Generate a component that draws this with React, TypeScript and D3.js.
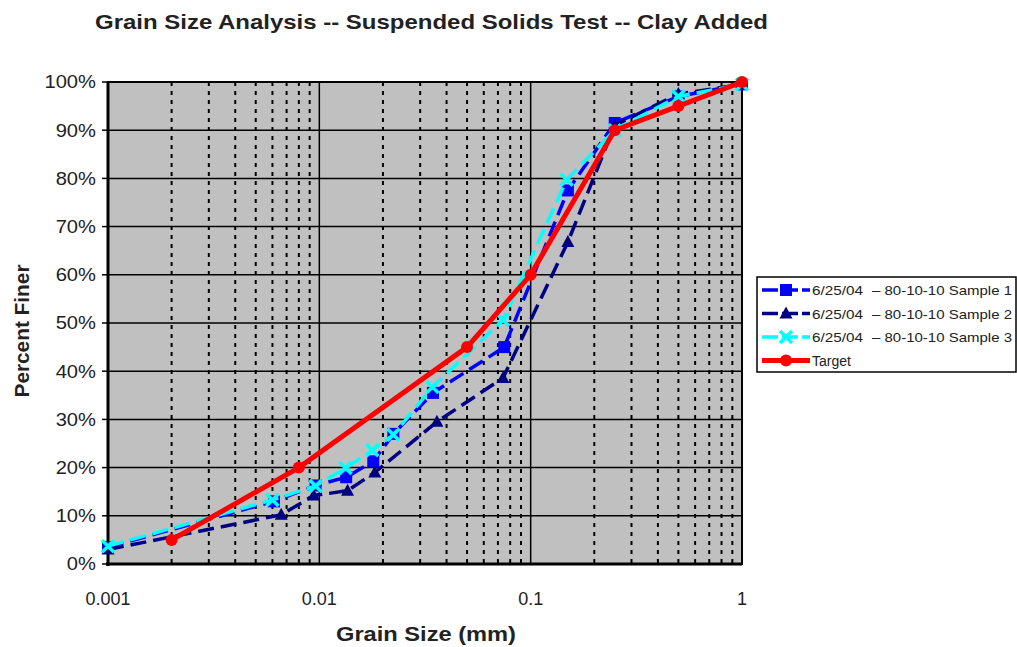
import React from "react";
import * as d3 from "d3";

const title = "Grain Size Analysis -- Suspended Solids Test -- Clay Added";
const xTickValues = [0.001, 0.01, 0.1, 1];
const xTickLabels = ["0.001", "0.01", "0.1", "1"];
const yTickValues = [0, 10, 20, 30, 40, 50, 60, 70, 80, 90, 100];

const sample1Size = [0.001, 0.0061, 0.0096, 0.0134, 0.018, 0.0224, 0.0345, 0.075, 0.15, 0.25, 0.5, 1];
const sample1Pct = [3.5, 13.0, 16.3, 18.0, 21.3, 27.0, 35.5, 45.0, 77.5, 91.5, 97.0, 99.5];

const sample2Size = [0.001, 0.0066, 0.0094, 0.0136, 0.0183, 0.036, 0.074, 0.15, 0.25, 0.5, 1];
const sample2Pct = [3.0, 10.2, 14.2, 15.2, 19.0, 29.5, 38.6, 66.8, 91.0, 97.5, 99.5];

const sample3Size = [0.001, 0.006, 0.0096, 0.0133, 0.0178, 0.0224, 0.0343, 0.074, 0.148, 0.25, 0.5, 1];
const sample3Pct = [3.7, 13.3, 16.2, 19.9, 23.6, 26.8, 36.7, 50.6, 79.7, 90.0, 97.0, 99.5];

const targetSize = [0.002, 0.008, 0.05, 0.1, 0.25, 0.5, 1];
const targetPct = [5, 20, 45, 60, 90, 95, 100];

const seriesDates = ["6/25/04", "6/25/04", "6/25/04", ""];
const seriesNames = ["\u2013 80-10-10 Sample 1", "\u2013 80-10-10 Sample 2", "\u2013 80-10-10 Sample 3", "Target"];

const W = 1017;
const H = 647;
const left = 108, right = 742, top = 82, bottom = 564;

type Marker = "square" | "triangle" | "x" | "circle";

function MarkerShape({ type, x, y, color }: { type: Marker; x: number; y: number; color: string }) {
  if (type === "square") return <rect x={x - 6} y={y - 6} width={12} height={12} fill={color} />;
  if (type === "triangle") return <path d={`M${x},${y - 7}L${x + 6.5},${y + 5}L${x - 6.5},${y + 5}Z`} fill={color} />;
  if (type === "x")
    return (
      <path d={`M${x - 6},${y - 6}L${x + 6},${y + 6}M${x + 6},${y - 6}L${x - 6},${y + 6}`} stroke={color} strokeWidth={3.5} />
    );
  return <circle cx={x} cy={y} r={6} fill={color} />;
}

export default function App() {
  const x = d3.scaleLog().domain([0.001, 1]).range([left, right]);
  const y = d3.scaleLinear().domain([0, 100]).range([bottom, top]);

  const minorTicks: number[] = [];
  [0.001, 0.01, 0.1].forEach((d) => {
    for (let k = 2; k <= 9; k++) minorTicks.push(d * k);
  });

  const series = [
    { size: sample1Size, pct: sample1Pct, color: "#0000ff", dash: "16,7", width: 3.5, marker: "square" as Marker },
    { size: sample2Size, pct: sample2Pct, color: "#000080", dash: "16,7", width: 3.5, marker: "triangle" as Marker },
    { size: sample3Size, pct: sample3Pct, color: "#00ffff", dash: "16,7", width: 3.5, marker: "x" as Marker },
    { size: targetSize, pct: targetPct, color: "#ff0000", dash: undefined, width: 5, marker: "circle" as Marker },
  ];

  const line = d3
    .line<[number, number]>()
    .x((d) => x(d[0]))
    .y((d) => y(d[1]));

  const font = "Liberation Sans, Arial, sans-serif";

  return (
    <svg width={W} height={H} style={{ position: "absolute", left: 0, top: 0, background: "#fff" }} fontFamily={font}>
      <text x={95} y={29} fontSize={21} fontWeight="bold" fill="#222" textLength={673} lengthAdjust="spacingAndGlyphs">
        {title}
      </text>
      <rect x={left} y={top} width={right - left} height={bottom - top} fill="#c0c0c0" />
      {minorTicks.map((t, i) => (
        <line key={"m" + i} x1={x(t)} x2={x(t)} y1={top} y2={bottom} stroke="#000" strokeWidth={2} strokeDasharray="4,5" />
      ))}
      {[0.01, 0.1].map((t) => (
        <line key={"M" + t} x1={x(t)} x2={x(t)} y1={top} y2={bottom} stroke="#000" strokeWidth={1.5} />
      ))}
      {yTickValues.map((t) => (
        <line key={"h" + t} x1={left} x2={right} y1={y(t)} y2={y(t)} stroke="#000" strokeWidth={1.5} />
      ))}
      <rect x={left} y={top} width={right - left} height={bottom - top} fill="none" stroke="#000" strokeWidth={2} />
      <line x1={left} x2={left} y1={top} y2={bottom + 2} stroke="#000" strokeWidth={3} />
      <line x1={left - 2} x2={right} y1={bottom} y2={bottom} stroke="#000" strokeWidth={3} />
      {yTickValues.map((t) => (
        <g key={"yt" + t}>
          <line x1={left - 6} x2={left} y1={y(t)} y2={y(t)} stroke="#000" strokeWidth={1.5} />
          <text x={96} y={y(t) + 6.5} textAnchor="end" fontSize={18} fill="#222" transform={`translate(96,0) scale(1.12,1) translate(-96,0)`}>
            {t + "%"}
          </text>
        </g>
      ))}
      {xTickValues.map((t, i) => (
        <text key={"xt" + t} x={x(t)} y={605} textAnchor="middle" fontSize={18} fill="#222">
          {xTickLabels[i]}
        </text>
      ))}
      <text x={426} y={641} textAnchor="middle" fontSize={20} fontWeight="bold" fill="#222" textLength={180} lengthAdjust="spacingAndGlyphs">
        Grain Size (mm)
      </text>
      <text transform={`translate(29,331) rotate(-90)`} textAnchor="middle" fontSize={20} fontWeight="bold" fill="#222" textLength={133} lengthAdjust="spacingAndGlyphs">
        Percent Finer
      </text>

      <g>
        {series.map((s, si) => {
          const pts: [number, number][] = s.size.map((v, i) => [v, s.pct[i]]);
          return (
            <g key={"s" + si}>
              <path d={line(pts) || ""} fill="none" stroke={s.color} strokeWidth={s.width} strokeDasharray={s.dash} />
              {pts.map((p, i) => (
                <MarkerShape key={i} type={s.marker} x={x(p[0])} y={y(p[1])} color={s.color} />
              ))}
            </g>
          );
        })}
      </g>

      <g>
        <rect x={757} y={277} width={259} height={95} fill="#fff" stroke="#000" strokeWidth={1.5} />
        {series.map((s, i) => {
          const ly = 290 + i * 23.5;
          return (
            <g key={"l" + i}>
              <line x1={762} x2={810} y1={ly} y2={ly} stroke={s.color} strokeWidth={s.width} strokeDasharray={s.dash ? "16,4" : undefined} />
              <MarkerShape type={s.marker} x={786} y={ly} color={s.color} />
              {seriesDates[i] ? (
                <>
                  <text x={812} y={ly + 5} fontSize={13.5} fill="#222" textLength={51} lengthAdjust="spacingAndGlyphs">
                    {seriesDates[i]}
                  </text>
                  <text x={872} y={ly + 5} fontSize={13.5} fill="#222" textLength={140} lengthAdjust="spacingAndGlyphs">
                    {seriesNames[i]}
                  </text>
                </>
              ) : (
                <text x={812} y={ly + 5} fontSize={14} fill="#222">
                  {seriesNames[i]}
                </text>
              )}
            </g>
          );
        })}
      </g>
    </svg>
  );
}
